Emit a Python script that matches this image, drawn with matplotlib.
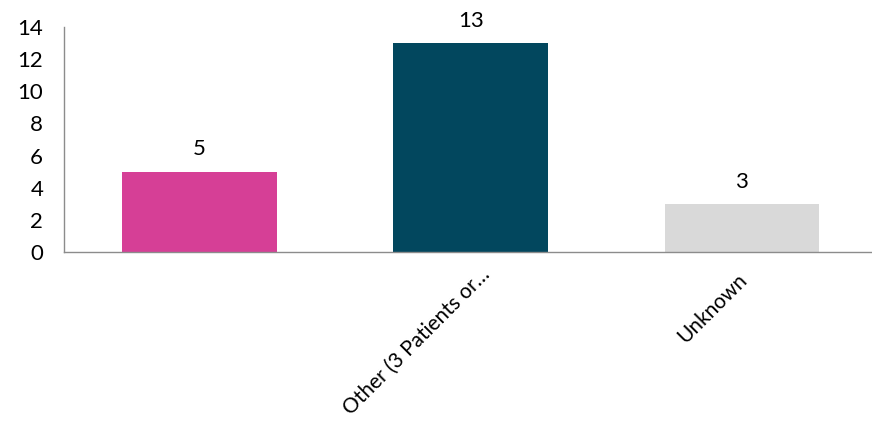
import matplotlib
matplotlib.use("Agg")
import matplotlib.pyplot as plt
from matplotlib.transforms import ScaledTranslation

categories = ["", "Other (3 Patients or\u2026", "Unknown"]
values = [5, 13, 3]
colors = ["#D63F96", "#02475E", "#D9D9D9"]
yticks = [0, 2, 4, 6, 8, 10, 12, 14]

# per-label nudges (pixels at 100 dpi) for the rotated category labels
label_nudge = [(0, -16), (16, -14), (2, -19)]

plt.rcParams["font.family"] = ["Lato", "DejaVu Sans"]
FS = 16

fig = plt.figure(figsize=(8.72, 4.25), dpi=100)
ax = fig.add_axes([64 / 872, (425 - 252) / 425, (872 - 64) / 872, (252 - 27) / 425])

x = list(range(len(categories)))
bars = ax.bar(x, values, width=0.57, color=colors)

for rect, v in zip(bars, values):
    ax.annotate(str(v), (rect.get_x() + rect.get_width() / 2, v),
                xytext=(0, 16), textcoords="offset points",
                ha="center", va="center", fontsize=FS, color="black")

ax.set_xlim(-0.5, 2.48)
ax.set_ylim(0, 14)
ax.set_yticks(yticks)
ax.set_yticklabels([str(t) for t in yticks], fontsize=FS)
ax.tick_params(axis="y", length=0, pad=15)
ax.tick_params(axis="x", length=0, pad=4)
ax.set_xticks(x)
ax.set_xticklabels(categories, rotation=45, ha="right", rotation_mode="anchor",
                   fontsize=15, va="center")
for lbl, (dx, dy) in zip(ax.get_xticklabels(), label_nudge):
    lbl.set_transform(lbl.get_transform()
                      + ScaledTranslation(dx / 100, dy / 100, fig.dpi_scale_trans))

for side in ["top", "right"]:
    ax.spines[side].set_visible(False)
for side in ["left", "bottom"]:
    ax.spines[side].set_color("#8C8C8C")
    ax.spines[side].set_linewidth(1.0)

fig.savefig("out.png", dpi=100)
